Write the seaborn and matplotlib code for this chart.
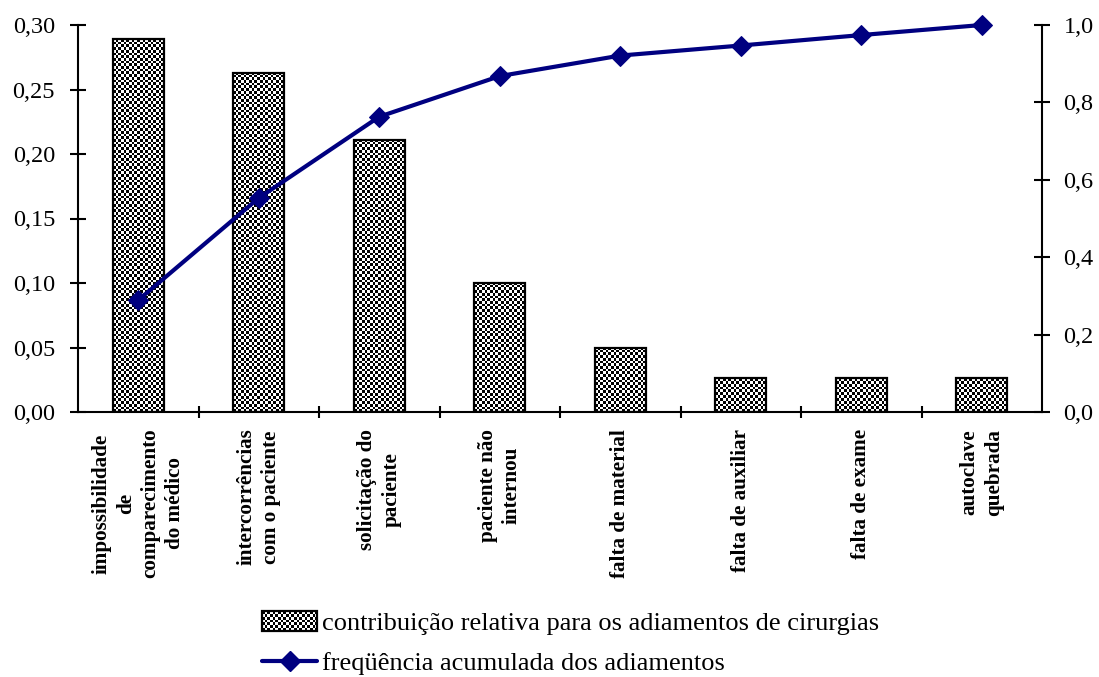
import numpy as np
import matplotlib
matplotlib.use("Agg")
import matplotlib.pyplot as plt
import seaborn as sns
from matplotlib.ticker import FuncFormatter, FixedLocator
from matplotlib.legend_handler import HandlerBase
from matplotlib.image import BboxImage
from matplotlib.transforms import Bbox, TransformedBbox
from matplotlib.patches import Rectangle
from matplotlib.lines import Line2D
from matplotlib.colors import Normalize

# Causes of surgery postponement (Pareto)
categories = [
    "impossibilidade\nde\ncomparecimento\ndo médico",
    "intercorrências\ncom o paciente",
    "solicitação do\npaciente",
    "paciente não\ninternou",
    "falta de material",
    "falta de auxiliar",
    "falta de exame",
    "autoclave\nquebrada",
]
relative = [0.289, 0.263, 0.211, 0.100, 0.050, 0.026, 0.026, 0.026]
cumulative = [0.289, 0.553, 0.763, 0.868, 0.921, 0.947, 0.974, 1.000]
left_ticks = [0.00, 0.05, 0.10, 0.15, 0.20, 0.25, 0.30]
right_ticks = [0.0, 0.2, 0.4, 0.6, 0.8, 1.0]
bar_label = "contribuição relativa para os adiamentos de cirurgias"
line_label = "freqüência acumulada dos adiamentos"

sns.set_theme(style="white")
plt.rcParams["font.family"] = ["Liberation Serif", "DejaVu Serif"]
plt.rcParams.update({"text.color": "black", "axes.labelcolor": "black",
                     "xtick.color": "black", "ytick.color": "black"})

W, H, DPI = 1099, 677, 100
fig = plt.figure(figsize=(W / DPI, H / DPI), dpi=DPI)
ax = fig.add_axes([78 / W, 1 - 412 / H, (1042 - 78) / W, (412 - 25) / H])

df_bar = {"cat": categories, "val": relative}
sns.barplot(x="cat", y="val", data=df_bar, ax=ax, color="white",
            edgecolor="black", linewidth=1.6, width=0.42, saturation=1)
ax.set_xlim(-0.5, len(categories) - 0.5)
ax.set_ylim(0, 0.30)

NAVY = "#000080"
CELL_PX = 2.7


def checker(nx, ny):
    yy, xx = np.mgrid[0:ny, 0:nx]
    return ((xx + yy) % 2).astype(float)


# fill every bar with a fine black/white checker texture
fig.canvas.draw()
for p in list(ax.patches):
    bb = p.get_window_extent()
    nx = max(1, int(round(bb.width / CELL_PX)))
    ny = max(1, int(round(bb.height / CELL_PX)))
    x0, y0 = p.get_x(), p.get_y()
    im = ax.imshow(checker(nx, ny), cmap="gray", norm=Normalize(0, 1),
                   interpolation="nearest", aspect="auto",
                   extent=(x0, x0 + p.get_width(), y0, y0 + p.get_height()),
                   origin="lower", zorder=2)
    im.set_clip_path(p)
    p.set_facecolor("none")
    p.set_zorder(3)
ax.set_xlim(-0.5, len(categories) - 0.5)
ax.set_ylim(0, 0.30)

# left axis
ax.set_yticks(left_ticks)
ax.yaxis.set_major_formatter(FuncFormatter(lambda v, _: f"{v:.2f}".replace(".", ",")))
ax.tick_params(axis="y", direction="inout", length=11, width=1.5,
               labelsize=17.5, pad=11, colors="black")
ax.set_xlabel("")
ax.set_ylabel("")

# category labels and boundary ticks on the x axis
ax.set_xticks(range(len(categories)))
ax.set_xticklabels(categories, rotation=90, fontweight="bold", fontsize=15.2,
                   multialignment="center", linespacing=1.3)
ax.tick_params(axis="x", which="major", length=0, pad=12)
ax.xaxis.set_minor_locator(FixedLocator(np.arange(0.5, len(categories) - 1, 1.0)))
ax.tick_params(axis="x", which="minor", direction="inout", length=9, width=1.5,
               color="black", bottom=True)

for side in ["top", "right"]:
    ax.spines[side].set_visible(False)
for side in ["left", "bottom"]:
    ax.spines[side].set_color("black")
    ax.spines[side].set_linewidth(1.5)

# cumulative line on secondary axis
ax2 = ax.twinx()
sns.lineplot(x=np.arange(len(cumulative)), y=cumulative, ax=ax2, color=NAVY,
             linewidth=3, marker="D", markersize=10, markeredgecolor=NAVY,
             markerfacecolor=NAVY, zorder=5, clip_on=False)
ax2.set_ylim(0, 1.0)
ax2.set_xlim(-0.5, len(categories) - 0.5)
ax2.set_yticks(right_ticks)
ax2.yaxis.set_major_formatter(FuncFormatter(lambda v, _: f"{v:.1f}".replace(".", ",")))
ax2.tick_params(axis="y", direction="inout", length=11, width=1.5,
                labelsize=17.5, pad=10, colors="black")
ax2.set_ylabel("")
for side in ["top", "left", "bottom"]:
    ax2.spines[side].set_visible(False)
ax2.spines["right"].set_color("black")
ax2.spines["right"].set_linewidth(1.5)
ax2.grid(False)
ax.grid(False)


class CheckerHandler(HandlerBase):
    def create_artists(self, legend, orig_handle, xdescent, ydescent,
                       width, height, fontsize, trans):
        bb = TransformedBbox(Bbox.from_bounds(-xdescent, -ydescent, width, height), trans)
        img = BboxImage(bb, cmap="gray", norm=Normalize(0, 1), interpolation="nearest")
        px_w = width * DPI / 72
        px_h = height * DPI / 72
        img.set_data(checker(int(round(px_w / CELL_PX)), int(round(px_h / CELL_PX))))
        rect = Rectangle((-xdescent, -ydescent), width, height, facecolor="none",
                         edgecolor="black", linewidth=1.6, transform=trans)
        return [img, rect]


bar_handle = Rectangle((0, 0), 1, 1, facecolor="white", edgecolor="black")
line_handle = Line2D([], [], color=NAVY, linewidth=3, marker="D", markersize=10,
                     markerfacecolor=NAVY, markeredgecolor=NAVY)
fig.legend([bar_handle, line_handle], [bar_label, line_label],
           loc="upper left", bbox_to_anchor=(262 / W, 1 - 611 / H),
           frameon=False, fontsize=19, handlelength=2.1, handleheight=0.76,
           handletextpad=0.19, labelspacing=0.62, borderpad=0, borderaxespad=0,
           handler_map={Rectangle: CheckerHandler()})

fig.savefig("out.png", dpi=DPI)
